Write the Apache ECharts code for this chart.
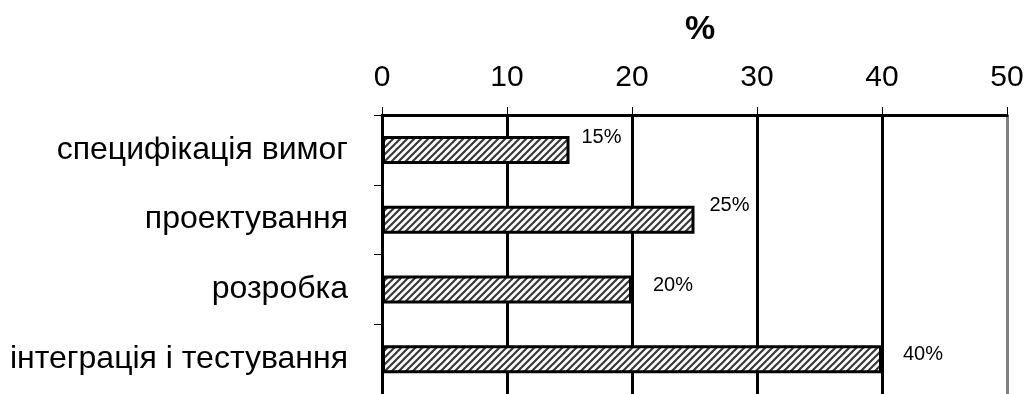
<!DOCTYPE html>
<html>
<head>
<meta charset="utf-8">
<script src="https://cdn.jsdelivr.net/npm/echarts@6/dist/echarts.min.js"></script>
<style>
  html, body { margin: 0; padding: 0; background: #fff; }
  #chart { width: 1032px; height: 394px; }
</style>
</head>
<body>
<div id="chart"></div>
<script>
// етапи та частка (%)
var stages = ['специфікація вимог', 'проектування', 'розробка', 'інтеграція і тестування'];
var shares = [15, 25, 20, 40];
var ticks = [0, 10, 20, 30, 40, 50];
// зсув підписів відносно кінця стовпця
var labelShift = [[7, -12], [10, -14], [16, -4], [16, -5]];

// штрихування для стовпців
function hatch() {
  var s = 7;
  var c = document.createElement('canvas');
  c.width = s; c.height = s;
  var ctx = c.getContext('2d');
  ctx.fillStyle = '#fff';
  ctx.fillRect(0, 0, s, s);
  ctx.strokeStyle = '#3a3a3a';
  ctx.lineWidth = 2.2;
  ctx.beginPath();
  ctx.moveTo(0, s); ctx.lineTo(s, 0);
  ctx.moveTo(-3, 3); ctx.lineTo(3, -3);
  ctx.moveTo(s - 3, s + 3); ctx.lineTo(s + 3, s - 3);
  ctx.stroke();
  return c;
}

var chart = echarts.init(document.getElementById('chart'));
var font = 'Liberation Sans, Arial, sans-serif';

var barData = shares.map(function (v, i) {
  return { value: v, label: { offset: labelShift[i] } };
});

var option = {
  animation: false,
  title: {
    text: '%',
    left: 680,
    top: 8,
    textStyle: { fontFamily: font, fontSize: 34, fontWeight: 'bold', color: '#000' }
  },
  grid: { left: 382, right: 25, top: 115, bottom: 0 },
  xAxis: {
    type: 'value',
    position: 'top',
    min: ticks[0],
    max: ticks[ticks.length - 1],
    interval: 10,
    axisLine: { show: true, lineStyle: { color: '#000', width: 3 } },
    axisTick: { show: true, length: 8, lineStyle: { color: '#000', width: 1 } },
    axisLabel: { fontFamily: font, fontSize: 30, color: '#000', margin: 22 },
    splitLine: {
      show: true,
      lineStyle: { color: ['#000', '#000', '#000', '#000', '#000', '#808080'], width: 3 }
    }
  },
  yAxis: {
    type: 'category',
    inverse: true,
    data: stages,
    axisLine: { show: true, lineStyle: { color: '#000', width: 3 } },
    axisTick: { show: true, length: 8, lineStyle: { color: '#000', width: 1 } },
    axisLabel: { fontFamily: font, fontSize: 32, color: '#000', margin: 34 }
  },
  series: [{
    type: 'bar',
    data: barData,
    barWidth: 28,
    itemStyle: {
      color: { image: hatch(), repeat: 'repeat' },
      borderColor: '#000',
      borderWidth: 3
    },
    label: {
      show: true,
      position: 'right',
      formatter: '{c}%',
      fontFamily: font,
      fontSize: 20,
      color: '#000'
    }
  }]
};
option && chart.setOption(option);
</script>
</body>
</html>
